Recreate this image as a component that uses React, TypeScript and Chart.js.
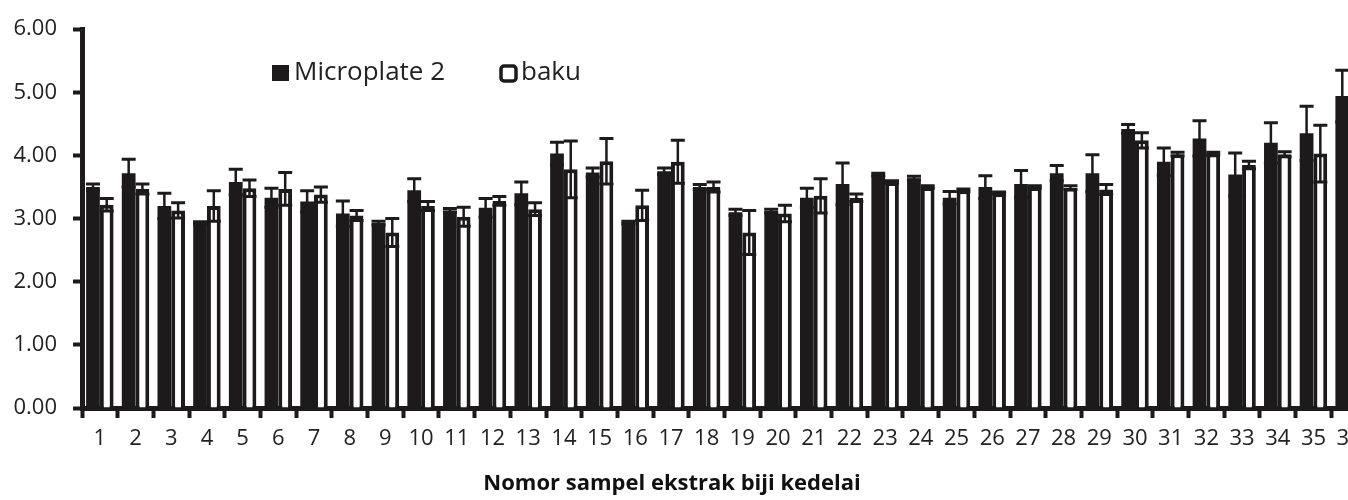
import React, { useEffect, useRef } from "react";
import { Chart, registerables } from "chart.js";

Chart.register(...registerables);

const categories = Array.from({ length: 36 }, (_, i) => String(i + 1));

const microplate = [3.50, 3.72, 3.20, 2.93, 3.58, 3.33, 3.27, 3.08, 2.93, 3.45, 3.13, 3.17, 3.40, 4.03, 3.73, 2.94, 3.75, 3.50, 3.10, 3.12, 3.33, 3.55, 3.70, 3.64, 3.33, 3.50, 3.55, 3.72, 3.72, 4.42, 3.90, 4.27, 3.70, 4.20, 4.35, 4.94];
const microErr = [0.05, 0.22, 0.20, 0.02, 0.20, 0.15, 0.17, 0.20, 0.03, 0.18, 0.03, 0.15, 0.18, 0.18, 0.07, 0.02, 0.05, 0.04, 0.05, 0.03, 0.15, 0.33, 0.02, 0.03, 0.10, 0.18, 0.21, 0.12, 0.29, 0.07, 0.22, 0.28, 0.34, 0.32, 0.43, 0.41];
const baku = [3.22, 3.47, 3.13, 3.20, 3.48, 3.47, 3.38, 3.05, 2.78, 3.20, 3.03, 3.28, 3.15, 3.78, 3.91, 3.21, 3.90, 3.50, 2.78, 3.08, 3.36, 3.33, 3.58, 3.50, 3.45, 3.40, 3.50, 3.49, 3.46, 4.24, 4.02, 4.03, 3.85, 4.02, 4.03, 4.55];
const bakuErr = [0.10, 0.08, 0.12, 0.24, 0.13, 0.26, 0.12, 0.08, 0.22, 0.07, 0.15, 0.07, 0.10, 0.45, 0.36, 0.24, 0.34, 0.08, 0.35, 0.13, 0.27, 0.06, 0.02, 0.02, 0.02, 0.02, 0.02, 0.03, 0.08, 0.12, 0.03, 0.02, 0.06, 0.04, 0.45, 0.30];

const seriesNames = ["Microplate 2", "baku"];
const yTicks = [0, 1, 2, 3, 4, 5, 6];
const xTitle = "Nomor sampel ekstrak biji kedelai";

const INK = "#1c1a1a";
const FONT = '"Open Sans", "DejaVu Sans", sans-serif';

const errorBarPlugin = {
  id: "errorBars",
  afterDatasetsDraw(chart: any) {
    const ctx = chart.ctx;
    const yScale = chart.scales.y;
    const errs = [microErr, bakuErr];
    chart.data.datasets.forEach((ds: any, di: number) => {
      const meta = chart.getDatasetMeta(di);
      meta.data.forEach((bar: any, i: number) => {
        const v = ds.data[i];
        const e = errs[di][i];
        const yTop = yScale.getPixelForValue(v + e);
        const yBot = yScale.getPixelForValue(v - e);
        const x = bar.x;
        ctx.save();
        ctx.strokeStyle = INK;
        ctx.lineWidth = 2.5;
        ctx.beginPath();
        ctx.moveTo(x, yTop);
        ctx.lineTo(x, yBot);
        ctx.stroke();
        ctx.lineWidth = 3;
        ctx.beginPath();
        ctx.moveTo(x - 7, yTop);
        ctx.lineTo(x + 7, yTop);
        ctx.moveTo(x - 7, yBot);
        ctx.lineTo(x + 7, yBot);
        ctx.stroke();
        ctx.restore();
      });
    });
  },
};

const textPlugin = {
  id: "customText",
  afterDraw(chart: any) {
    const ctx = chart.ctx;
    const left = chart.chartArea.left;
    const cy = 73;
    ctx.save();
    ctx.font = `26px ${FONT}`;
    ctx.textBaseline = "middle";
    ctx.textAlign = "left";
    // Microplate 2
    ctx.fillStyle = INK;
    ctx.fillRect(left + 190, cy - 8, 17, 16);
    ctx.fillStyle = "#222";
    ctx.fillText(seriesNames[0], left + 212, cy);
    // baku
    ctx.strokeStyle = INK;
    ctx.lineWidth = 3.5;
    ctx.fillStyle = "#fff";
    ctx.beginPath();
    (ctx as any).roundRect ? (ctx as any).roundRect(left + 419, cy - 7, 15, 15, 3) : ctx.rect(left + 419, cy - 7, 15, 15);
    ctx.fill();
    ctx.stroke();
    ctx.fillStyle = "#222";
    ctx.fillText(seriesNames[1], left + 439, cy);
    // x axis title
    ctx.font = `bold 22px ${FONT}`;
    ctx.textAlign = "center";
    ctx.fillStyle = "#111";
    ctx.fillText(xTitle, left + 590, 484);
    ctx.restore();
  },
};

export default function App() {
  const ref = useRef<HTMLCanvasElement | null>(null);

  useEffect(() => {
    if (!ref.current) return;
    const chart = new Chart(ref.current, {
      type: "bar",
      data: {
        labels: categories,
        datasets: [
          {
            label: seriesNames[0],
            data: microplate,
            backgroundColor: INK,
            borderColor: INK,
            borderWidth: 0,
            barPercentage: 1.0,
            categoryPercentage: 0.77,
          },
          {
            label: seriesNames[1],
            data: baku,
            backgroundColor: "#ffffff",
            borderColor: INK,
            borderWidth: 4,
            barPercentage: 1.0,
            categoryPercentage: 0.77,
          },
        ],
      },
      options: {
        responsive: false,
        animation: false,
        devicePixelRatio: 1,
        layout: { padding: { top: 20, right: 33, left: 0, bottom: 0 } },
        plugins: {
          legend: { display: false },
          tooltip: { enabled: false },
        },
        scales: {
          x: {
            offset: true,
            grid: {
              offset: true,
              drawOnChartArea: false,
              drawTicks: true,
              tickLength: 10,
              tickWidth: 4,
              tickColor: INK,
            },
            border: { display: true, color: INK, width: 5 },
            ticks: {
              color: "#222",
              font: { family: FONT, size: 22 },
              padding: 8,
              maxRotation: 0,
              autoSkip: false,
            },
            afterFit(scale: any) {
              scale.height = 92;
            },
          },
          y: {
            min: 0,
            max: 6,
            afterBuildTicks(scale: any) {
              scale.ticks = yTicks.map((v) => ({ value: v }));
            },
            grid: {
              drawOnChartArea: false,
              drawTicks: true,
              tickLength: 9,
              tickWidth: 4,
              tickColor: INK,
            },
            border: { display: true, color: INK, width: 5 },
            ticks: {
              color: "#222",
              font: { family: FONT, size: 22 },
              padding: 16,
              callback: (v: any) => Number(v).toFixed(2),
            },
            afterFit(scale: any) {
              scale.width = 82;
            },
          },
        },
      },
      plugins: [errorBarPlugin, textPlugin],
    });
    return () => chart.destroy();
  }, []);

  return (
    <div
      style={{
        position: "fixed",
        left: 0,
        top: 0,
        width: 1348,
        height: 500,
        overflow: "hidden",
        background: "#fff",
      }}
    >
      <canvas ref={ref} width={1400} height={500} style={{ display: "block" }} />
    </div>
  );
}
